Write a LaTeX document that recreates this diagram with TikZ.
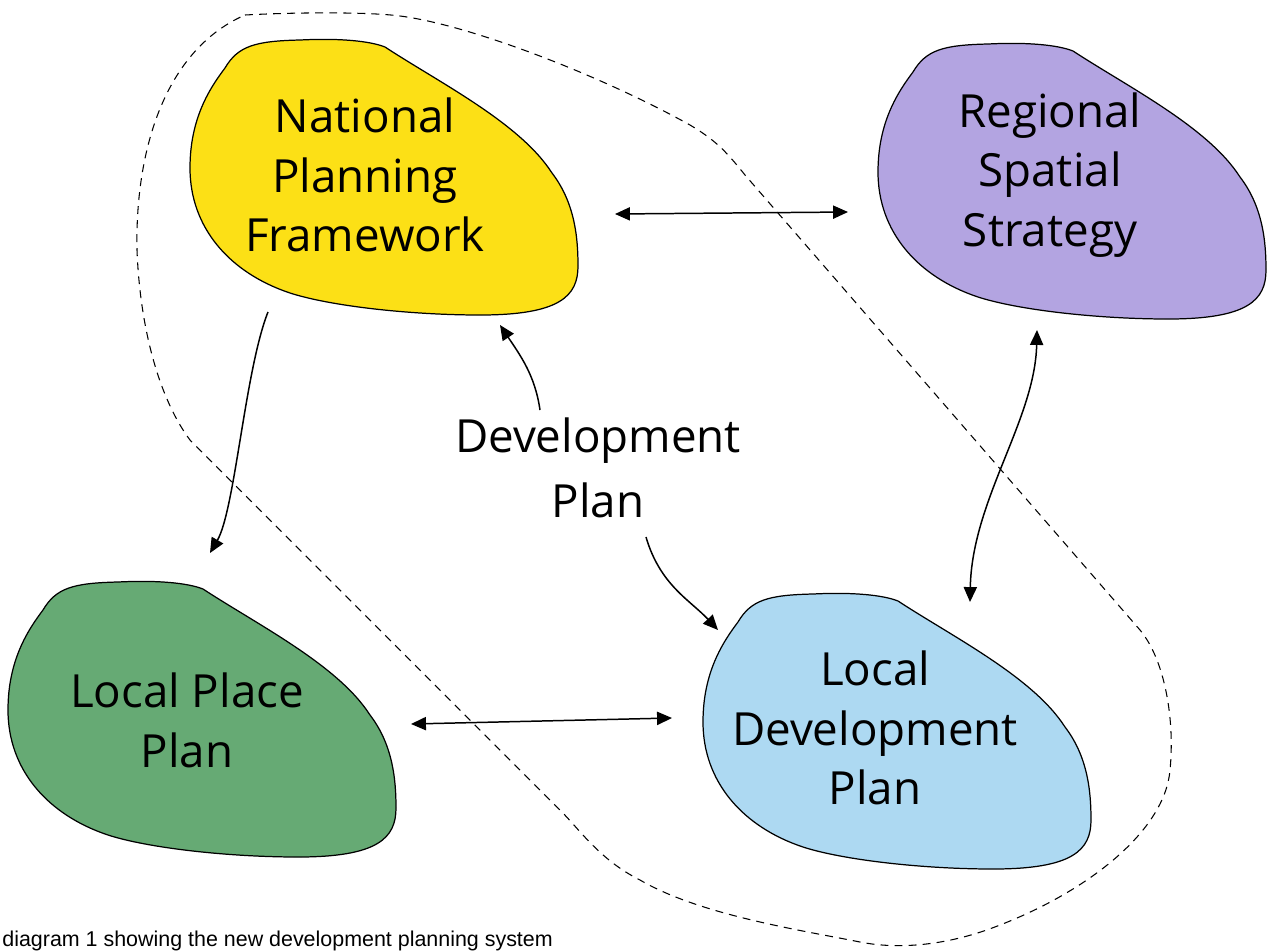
\documentclass[tikz,border=0pt]{standalone}
\usepackage{fontspec}
\setmainfont{Open Sans}
\newfontfamily\capfont{Liberation Sans}
\usetikzlibrary{arrows.meta}
\definecolor{cyellow}{RGB}{252,224,22}
\definecolor{cpurple}{RGB}{179,164,225}
\definecolor{cgreen}{RGB}{102,170,116}
\definecolor{cblue}{RGB}{173,217,242}
\tikzset{
  blobline/.style={draw=black, line width=0.7pt},
  lbl/.style={align=center, font=\fontsize{26}{34}\selectfont, inner sep=0pt},
  link/.style={line width=0.85pt, -{Triangle[length=8.5pt,width=7.5pt]}},
  linktwo/.style={line width=0.85pt, {Triangle[length=8.5pt,width=7.5pt]}-{Triangle[length=8.5pt,width=7.5pt]}},
  fence/.style={line width=0.6pt, dash pattern=on 4.5pt off 3.5pt},
}
\newcommand\myblob[3]{%
  \begin{scope}[shift={(#1,#2)}]
    \path[fill=#3, blobline] (35,30) .. controls (48,8) and (65,3) .. (110,2)
      .. controls (150,0) and (180,3) .. (195,9)
      .. controls (250,45) and (330,85) .. (362,135)
      .. controls (385,165) and (388,200) .. (388,228)
      .. controls (388,258) and (370,277) .. (290,277)
      .. controls (220,277) and (140,268) .. (100,255)
      .. controls (40,235) and (0,190) .. (0,130)
      .. controls (0,80) and (20,50) .. (35,30) -- cycle;
  \end{scope}}
\begin{document}
\begin{tikzpicture}[x=0.02cm, y=-0.02cm]
\useasboundingbox (0,0) rectangle (1268,951);
\fill[white] (0,0) rectangle (1268,951);
% dashed boundary
\draw[fence] (245,15) .. controls (300,12) and (370,12) .. (400,16)
  .. controls (470,25) and (600,75) .. (690,125)
  .. controls (715,140) and (725,150) .. (745,175)
  -- (1140,630)
  .. controls (1165,660) and (1175,720) .. (1170,770)
  .. controls (1165,830) and (1090,890) .. (1000,925)
  .. controls (950,945) and (900,950) .. (860,942)
  .. controls (800,930) and (700,915) .. (640,880)
  .. controls (600,860) and (580,830) .. (560,810)
  -- (190,440)
  .. controls (160,400) and (140,330) .. (137,250)
  .. controls (135,150) and (165,50) .. (245,15) -- cycle;
% blobs
\myblob{190}{38}{cyellow}
\myblob{878}{42}{cpurple}
\myblob{8}{580}{cgreen}
\myblob{703}{592}{cblue}
% labels
\node[lbl] (npf) at (365,175) {National\\Planning\\Framework};
\node[lbl] (rss) at (1050,175) {Regional\\Spatial\\Strategy};
\node[lbl, font=\fontsize{26}{37}\selectfont] (dev) at (598,468) {Development\\Plan};
\node[lbl] (lpp) at (187,720) {Local Place\\Plan};
\node[lbl] (ldp) at (875,728) {Local\\Development\\Plan};
\node[anchor=base west, inner sep=0pt, font=\capfont\fontsize{12.2}{14}\selectfont] (cap) at (2,946) {diagram 1 showing the new development planning system};
% connector end points
\coordinate (a1) at (615,214);
\coordinate (a2) at (848,212);
\coordinate (b1) at (268,312);
\coordinate (b2) at (210,553);
\coordinate (c1) at (540,410);
\coordinate (c2) at (500,325);
\coordinate (d1) at (646,537);
\coordinate (d2) at (718,630);
\coordinate (e1) at (1037,330);
\coordinate (e2) at (970,602);
\coordinate (f1) at (411,724);
\coordinate (f2) at (672,718);
% connectors
\draw[linktwo] (a1) -- (a2);
\draw[link] (b1) .. controls (245,370) and (235,510) .. (b2);
\draw[link] (c1) .. controls (535,375) and (520,355) .. (c2);
\draw[link] (d1) .. controls (660,585) and (690,600) .. (d2);
\draw[linktwo] (e1) .. controls (1035,420) and (972,500) .. (e2);
\draw[linktwo] (f1) -- (f2);
\end{tikzpicture}
\end{document}
